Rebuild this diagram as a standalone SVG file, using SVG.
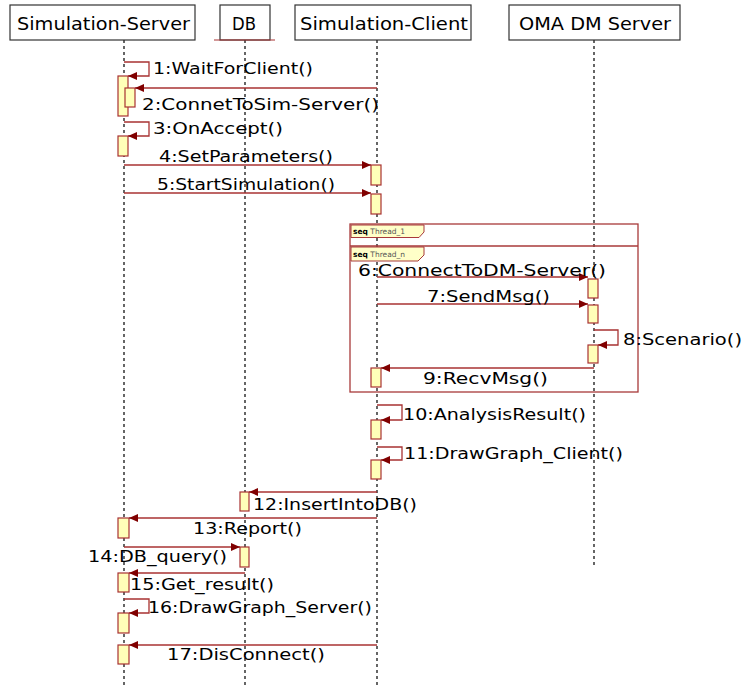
<svg xmlns="http://www.w3.org/2000/svg" width="743" height="686" viewBox="0 0 743 686">
<style>
.hdr{fill:#fff;stroke:#333;stroke-width:1.2}
.htx{font-family:"DejaVu Sans","Liberation Sans",sans-serif;font-size:17px;fill:#000}
.life{stroke:#000;stroke-width:1.2;stroke-dasharray:3,3;fill:none}
.act{fill:#ffffb8;stroke:#a83232;stroke-width:1.2}
.msg{stroke:#a83232;stroke-width:1.3;fill:none}
.lbl{font-family:"DejaVu Sans","Liberation Sans",sans-serif;font-size:16px;fill:#000}
.frame{fill:none;stroke:#a83a3a;stroke-width:1.3}
.tag{fill:#ffffc8;stroke:#a83a3a;stroke-width:1}
.tagt{font-family:"DejaVu Sans","Liberation Sans",sans-serif;font-size:7.5px;fill:#555}
</style>
<defs>
<marker id="ah" markerWidth="10" markerHeight="8" refX="9" refY="4" orient="auto" markerUnits="userSpaceOnUse">
<path d="M0,0 L9,4 L0,8 Z" fill="#800000"/>
</marker>
</defs>
<rect width="743" height="686" fill="#fff"/>

<g id="lifelines">
<line class="life" x1="124" y1="40" x2="124" y2="686"/>
<line class="life" x1="245" y1="40" x2="245" y2="686"/>
<line class="life" x1="377" y1="40" x2="377" y2="686"/>
<line class="life" x1="594" y1="40" x2="594" y2="566"/>
</g>

<g id="simulation-server">
<rect class="hdr" x="10" y="5" width="185" height="35"/>
<text class="htx" x="17" y="30" textLength="173" lengthAdjust="spacingAndGlyphs">Simulation-Server</text>
</g>
<g id="db">
<rect class="hdr" x="220" y="5" width="50" height="35"/>
<line x1="214" y1="40" x2="275" y2="40" stroke="#a83232" stroke-width="1.2"/>
<text class="htx" x="232" y="30" textLength="24" lengthAdjust="spacingAndGlyphs">DB</text>
</g>
<g id="simulation-client">
<rect class="hdr" x="295" y="5" width="176" height="35"/>
<text class="htx" x="300" y="30" textLength="168" lengthAdjust="spacingAndGlyphs">Simulation-Client</text>
</g>
<g id="oma-dm-server">
<rect class="hdr" x="509" y="5" width="171" height="35"/>
<text class="htx" x="519" y="30" textLength="152" lengthAdjust="spacingAndGlyphs">OMA DM Server</text>
</g>

<g id="frames">
<rect class="frame" x="350" y="224" width="288" height="168"/>
<line class="frame" x1="350" y1="246" x2="638" y2="246"/>
<path class="tag" d="M351,225 H424 V232 L419,237.5 H351 Z"/>
<text class="tagt" x="353" y="234"><tspan font-weight="bold" fill="#000">seq</tspan> Thread_1</text>
<path class="tag" d="M351,247 H424 V255 L418,261 H351 Z"/>
<text class="tagt" x="353" y="257"><tspan font-weight="bold" fill="#000">seq</tspan> Thread_n</text>
</g>

<g id="activations">
<rect class="act" x="118" y="76" width="10" height="40"/>
<rect class="act" x="125" y="88" width="10" height="19"/>
<rect class="act" x="118" y="136" width="10" height="20"/>
<rect class="act" x="371" y="165" width="10" height="20"/>
<rect class="act" x="371" y="194" width="10" height="20"/>
<rect class="act" x="588" y="279" width="10" height="19"/>
<rect class="act" x="588" y="305" width="10" height="18"/>
<rect class="act" x="588" y="345" width="10" height="18"/>
<rect class="act" x="371" y="368" width="10" height="19"/>
<rect class="act" x="371" y="420" width="10" height="19"/>
<rect class="act" x="371" y="460" width="10" height="19"/>
<rect class="act" x="240" y="492" width="9" height="19"/>
<rect class="act" x="118" y="518" width="11" height="20"/>
<rect class="act" x="240" y="547" width="9" height="20"/>
<rect class="act" x="118" y="573" width="11" height="19"/>
<rect class="act" x="118" y="613" width="11" height="20"/>
<rect class="act" x="118" y="645" width="11" height="19"/>
</g>

<g id="connectors">
<path class="msg" d="M124,62 H149 V76 H128" marker-end="url(#ah)"/>
<path class="msg" d="M377,88 H135" marker-end="url(#ah)"/>
<path class="msg" d="M124,122 H149 V136 H128" marker-end="url(#ah)"/>
<path class="msg" d="M124,165 H371" marker-end="url(#ah)"/>
<path class="msg" d="M124,193 H371" marker-end="url(#ah)"/>
<path class="msg" d="M377,277 H588" marker-end="url(#ah)"/>
<path class="msg" d="M377,304 H588" marker-end="url(#ah)"/>
<path class="msg" d="M594,330 H618 V345 H598" marker-end="url(#ah)"/>
<path class="msg" d="M594,368 H381" marker-end="url(#ah)"/>
<path class="msg" d="M377,405 H402 V420 H381" marker-end="url(#ah)"/>
<path class="msg" d="M377,447 H402 V460 H381" marker-end="url(#ah)"/>
<path class="msg" d="M377,492 H249" marker-end="url(#ah)"/>
<path class="msg" d="M377,518 H129" marker-end="url(#ah)"/>
<path class="msg" d="M124,547 H240" marker-end="url(#ah)"/>
<path class="msg" d="M245,573 H129" marker-end="url(#ah)"/>
<path class="msg" d="M124,599 H149 V613 H129" marker-end="url(#ah)"/>
<path class="msg" d="M377,645 H129" marker-end="url(#ah)"/>
</g>

<g id="labels">
<text class="lbl" x="153" y="74" textLength="160" lengthAdjust="spacingAndGlyphs">1:WaitForClient()</text>
<text class="lbl" x="142" y="110" textLength="237" lengthAdjust="spacingAndGlyphs">2:ConnetToSim-Server()</text>
<text class="lbl" x="153" y="134" textLength="130" lengthAdjust="spacingAndGlyphs">3:OnAccept()</text>
<text class="lbl" x="159" y="162" textLength="174" lengthAdjust="spacingAndGlyphs">4:SetParameters()</text>
<text class="lbl" x="157" y="190" textLength="178" lengthAdjust="spacingAndGlyphs">5:StartSimulation()</text>
<text class="lbl" x="358" y="276" textLength="248" lengthAdjust="spacingAndGlyphs">6:ConnectToDM-Server()</text>
<text class="lbl" x="427" y="302" textLength="123" lengthAdjust="spacingAndGlyphs">7:SendMsg()</text>
<text class="lbl" x="623" y="345" textLength="119" lengthAdjust="spacingAndGlyphs">8:Scenario()</text>
<text class="lbl" x="423" y="384" textLength="125" lengthAdjust="spacingAndGlyphs">9:RecvMsg()</text>
<text class="lbl" x="403" y="420" textLength="183" lengthAdjust="spacingAndGlyphs">10:AnalysisResult()</text>
<text class="lbl" x="404" y="459" textLength="219" lengthAdjust="spacingAndGlyphs">11:DrawGraph_Client()</text>
<text class="lbl" x="253" y="510" textLength="164" lengthAdjust="spacingAndGlyphs">12:InsertIntoDB()</text>
<text class="lbl" x="193" y="534" textLength="109" lengthAdjust="spacingAndGlyphs">13:Report()</text>
<text class="lbl" x="88" y="562" textLength="139" lengthAdjust="spacingAndGlyphs">14:DB_query()</text>
<text class="lbl" x="130" y="590" textLength="144" lengthAdjust="spacingAndGlyphs">15:Get_result()</text>
<text class="lbl" x="148" y="613" textLength="224" lengthAdjust="spacingAndGlyphs">16:DrawGraph_Server()</text>
<text class="lbl" x="167" y="660" textLength="158" lengthAdjust="spacingAndGlyphs">17:DisConnect()</text>
</g>
</svg>
